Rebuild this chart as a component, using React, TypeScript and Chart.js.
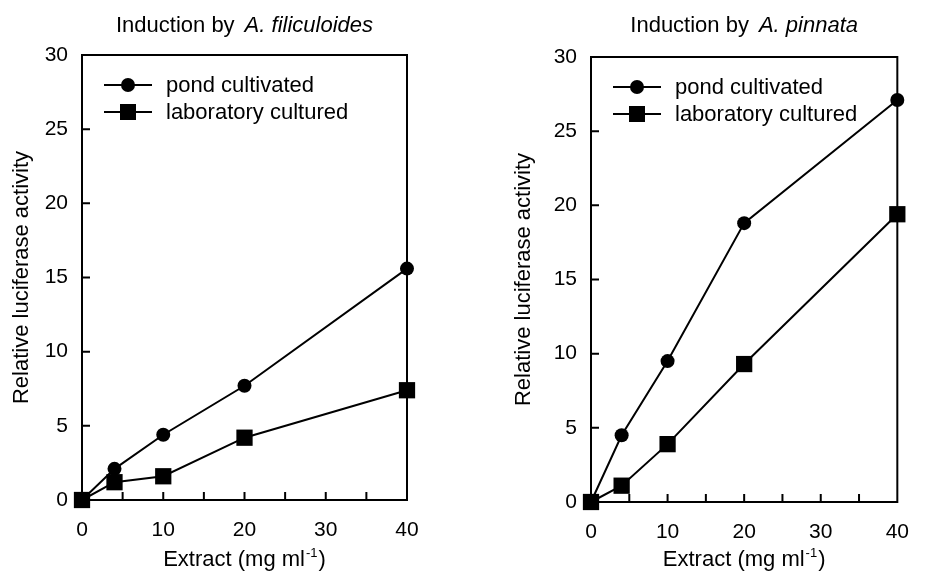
import React, { useEffect, useRef } from 'react';
import { Chart, registerables } from 'chart.js';

Chart.register(...registerables);

// ---------- data ----------
const extractDoses = [0, 4, 10, 20, 40];
const filiculoidesPond = [0, 2.1, 4.4, 7.7, 15.6];
const filiculoidesLab = [0, 1.2, 1.6, 4.2, 7.4];
const pinnataPond = [0, 4.5, 9.5, 18.8, 27.1];
const pinnataLab = [0, 1.1, 3.9, 9.3, 19.4];
const seriesNames = ['pond cultivated', 'laboratory cultured'];
const xLabelValues = [0, 10, 20, 30, 40];
const titlePrefix = 'Induction by';
const speciesNames = ['A. filiculoides', 'A. pinnata'];
const yAxisTitle = 'Relative luciferase activity';
const xAxisTitleMain = 'Extract (mg ml';
const xAxisTitleSup = '-1';
const xAxisTitleEnd = ')';

const FONT = "'Liberation Sans', Arial, Helvetica, sans-serif";
const H = 573;
const TXT = 22;
const TICK = 21;

type Panel = {
  offset: number;
  width: number;
  left: number;
  right: number;
  top: number;
  bottom: number;
  yTitlePad: number;
  pond: number[];
  lab: number[];
  species: string;
};

const panels: Panel[] = [
  { offset: 0, width: 463, left: 82, right: 407, top: 55, bottom: 500, yTitlePad: 9, pond: filiculoidesPond, lab: filiculoidesLab, species: speciesNames[0] },
  { offset: 463, width: 464, left: 128, right: 453, top: 57, bottom: 502, yTitlePad: 48, pond: pinnataPond, lab: pinnataLab, species: speciesNames[1] },
];

function drawMarker(ctx: CanvasRenderingContext2D, style: string, x: number, y: number) {
  ctx.fillStyle = '#000';
  if (style === 'circle') {
    ctx.beginPath();
    ctx.arc(x, y, 7, 0, Math.PI * 2);
    ctx.fill();
  } else {
    const s = 8;
    ctx.fillRect(x - s, y - s, 2 * s, 2 * s);
  }
}

function makeDecor(species: string) {
  return {
    id: 'decor',
    beforeDatasetsDraw(chart: any) {
      const { ctx, chartArea } = chart;
      const xs = chart.scales.x;
      const ys = chart.scales.y;
      ctx.save();
      ctx.strokeStyle = '#000';
      ctx.lineWidth = 2;
      ctx.strokeRect(chartArea.left, chartArea.top, chartArea.right - chartArea.left, chartArea.bottom - chartArea.top);
      ctx.beginPath();
      for (let v = 5; v < 40; v += 5) {
        const px = xs.getPixelForValue(v);
        ctx.moveTo(px, chartArea.bottom);
        ctx.lineTo(px, chartArea.bottom - 8);
      }
      for (let v = 5; v < 30; v += 5) {
        const py = ys.getPixelForValue(v);
        ctx.moveTo(chartArea.left, py);
        ctx.lineTo(chartArea.left + 8, py);
      }
      ctx.stroke();
      ctx.restore();
    },
    afterDraw(chart: any) {
      const { ctx, chartArea } = chart;
      const cx = (chartArea.left + chartArea.right) / 2;
      ctx.save();
      ctx.fillStyle = '#000';
      ctx.textBaseline = 'alphabetic';
      // title
      ctx.font = `${TXT}px ${FONT}`;
      const w1 = ctx.measureText(titlePrefix).width;
      const gap = 10;
      ctx.font = `italic ${TXT}px ${FONT}`;
      const w2 = ctx.measureText(species).width;
      const tx = cx - (w1 + gap + w2) / 2;
      ctx.font = `${TXT}px ${FONT}`;
      ctx.textAlign = 'left';
      ctx.fillText(titlePrefix, tx, 32);
      ctx.font = `italic ${TXT}px ${FONT}`;
      ctx.fillText(species, tx + w1 + gap, 32);
      // x axis title with superscript
      ctx.font = `${TXT}px ${FONT}`;
      const a = ctx.measureText(xAxisTitleMain).width;
      ctx.font = `13px ${FONT}`;
      const b = ctx.measureText(xAxisTitleSup).width;
      ctx.font = `${TXT}px ${FONT}`;
      const c = ctx.measureText(xAxisTitleEnd).width;
      const sx = cx - (a + b + c + 2) / 2;
      const by = 566;
      ctx.fillText(xAxisTitleMain, sx, by);
      ctx.font = `13px ${FONT}`;
      ctx.fillText(xAxisTitleSup, sx + a + 1, by - 9);
      ctx.font = `${TXT}px ${FONT}`;
      ctx.fillText(xAxisTitleEnd, sx + a + b + 2, by);
      // legend
      chart.data.datasets.forEach((ds: any, i: number) => {
        const ly = chartArea.top + 30 + i * 27;
        ctx.strokeStyle = '#000';
        ctx.lineWidth = 2;
        ctx.beginPath();
        ctx.moveTo(chartArea.left + 22, ly);
        ctx.lineTo(chartArea.left + 70, ly);
        ctx.stroke();
        drawMarker(ctx, ds.pointStyle, chartArea.left + 46, ly);
        ctx.fillStyle = '#000';
        ctx.font = `${TXT}px ${FONT}`;
        ctx.textBaseline = 'middle';
        ctx.fillText(ds.label, chartArea.left + 84, ly + 1);
      });
      ctx.restore();
    },
  };
}

function PanelChart({ p }: { p: Panel }) {
  const ref = useRef<HTMLCanvasElement | null>(null);
  useEffect(() => {
    if (!ref.current) return;
    const chart = new Chart(ref.current, {
      type: 'line',
      data: {
        datasets: [
          {
            label: seriesNames[0],
            data: extractDoses.map((x, i) => ({ x, y: p.pond[i] })),
            borderColor: '#000',
            backgroundColor: '#000',
            borderWidth: 2,
            pointStyle: 'circle',
            pointRadius: 7,
            pointBorderWidth: 0,
            pointBackgroundColor: '#000',
            clip: false as any,
          },
          {
            label: seriesNames[1],
            data: extractDoses.map((x, i) => ({ x, y: p.lab[i] })),
            borderColor: '#000',
            backgroundColor: '#000',
            borderWidth: 2,
            pointStyle: 'rect',
            pointRadius: 11.5,
            pointBorderWidth: 0,
            pointBackgroundColor: '#000',
            clip: false as any,
          },
        ],
      },
      options: {
        animation: false,
        responsive: false,
        maintainAspectRatio: false,
        devicePixelRatio: 1,
        layout: { padding: { left: 0, top: p.top, right: p.width - p.right, bottom: 0 } },
        plugins: { legend: { display: false }, tooltip: { enabled: false }, title: { display: false } },
        scales: {
          x: {
            type: 'linear',
            min: 0,
            max: 40,
            grid: { display: false, drawTicks: false },
            border: { display: false },
            ticks: {
              stepSize: 5,
              autoSkip: false,
              maxRotation: 0,
              padding: 18,
              color: '#000',
              font: { family: FONT, size: TICK },
              callback: (v: any) => (xLabelValues.includes(Number(v)) ? String(v) : ''),
            },
            afterFit: (s: any) => { s.height = H - p.bottom; },
          },
          y: {
            type: 'linear',
            min: 0,
            max: 30,
            grid: { display: false, drawTicks: false },
            border: { display: false },
            ticks: {
              stepSize: 5,
              padding: 14,
              color: '#000',
              font: { family: FONT, size: TICK },
            },
            title: {
              display: true,
              text: yAxisTitle,
              color: '#000',
              font: { family: FONT, size: TXT },
              padding: { top: p.yTitlePad, bottom: 0 },
            },
            afterFit: (s: any) => { s.width = p.left; },
          },
        },
      },
      plugins: [makeDecor(p.species)],
    });
    return () => chart.destroy();
  }, [p]);
  return (
    <canvas
      ref={ref}
      width={p.width}
      height={H}
      style={{ position: 'absolute', left: p.offset, top: 0, width: p.width, height: H }}
    />
  );
}

export default function App() {
  return (
    <div style={{ position: 'absolute', left: 0, top: 0, width: 927, height: H, background: '#fff' }}>
      {panels.map((p, i) => (
        <PanelChart key={i} p={p} />
      ))}
    </div>
  );
}
